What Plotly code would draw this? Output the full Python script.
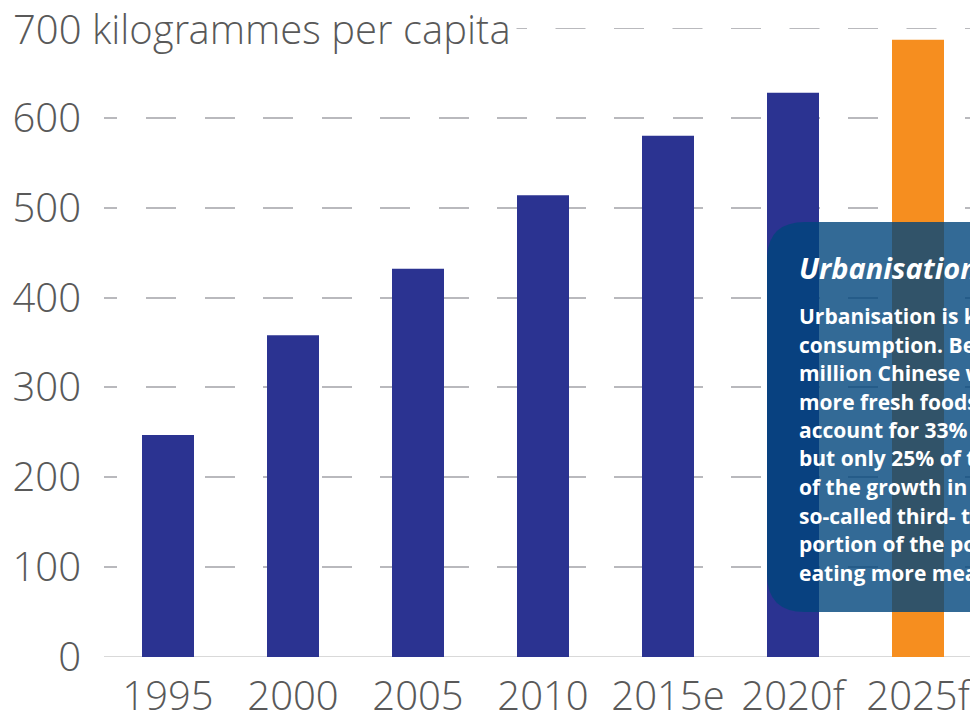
import plotly.graph_objects as go

# ---- data ----
categories = ["1995", "2000", "2005", "2010", "2015e", "2020f", "2025f"]
values = [247, 358, 432, 514, 580, 628, 687]
y_ticks = [0, 100, 200, 300, 400, 500, 600]
y_top_value = 700
y_top_label = "700 kilogrammes per capita"
box_title = "Urbanisation and diet"
box_lines = [
    "Urbanisation is key to rising food",
    "consumption. Between 2015 and 2025, 200",
    "million Chinese will move to cities and eat",
    "more fresh foods. First-tier cities",
    "account for 33% of food consumption",
    "but only 25% of the population. Much",
    "of the growth in future will come from",
    "so-called third- to fifth-tier cities, a large",
    "portion of the population who will be",
    "eating more meat.",
]

# ---- styles ----
BLUE = "#2b3391"
ORANGE = "#f68e1f"
GREY_TEXT = "#595959"
FONT = "Open Sans Light, Open Sans"
BOX_FONT = "Open Sans"
bar_colors = [ORANGE if c == "2025f" else BLUE for c in categories]

W, H = 970, 714
ML, MR, MT, MB = 104, 0, 28, 57
PW, PH = W - ML - MR, H - MT - MB


def px_x(p):
    return (p - ML) / PW


def px_y(p):
    return (H - MB - p) / PH


# dash pattern for gridlines (offset to match the reference)
dash = ["13px", "29px"] + ["30px", "28.5px"] * 16
dash_str = ",".join(dash)

fig = go.Figure()
fig.add_trace(go.Bar(
    x=categories, y=values, marker=dict(color=bar_colors, line=dict(width=0)),
    width=0.416, hoverinfo="skip",
))

fig.update_layout(
    width=W, height=H,
    margin=dict(l=ML, r=MR, t=MT, b=MB, pad=0, autoexpand=False),
    paper_bgcolor="white", plot_bgcolor="white",
    showlegend=False,
    font=dict(family=FONT, color=GREY_TEXT, size=40, weight=300),
    xaxis=dict(
        type="category", range=[-0.512, 6.416], showgrid=False,
        showline=False, zeroline=False, ticks="", automargin=False,
        tickfont=dict(family=FONT, size=40, color=GREY_TEXT, weight=300),
        ticklabelstandoff=12,
    ),
    yaxis=dict(
        range=[0, y_top_value], tickvals=y_ticks,
        ticktext=[str(v) for v in y_ticks], automargin=False,
        showgrid=True, gridcolor="#b9b9bd", gridwidth=2, griddash=dash_str,
        zeroline=False, showline=False, ticks="",
        tickfont=dict(family=FONT, size=40, color=GREY_TEXT, weight=300),
        ticklabelstandoff=22,
    ),
)

# top gridline (at the range edge)
fig.add_shape(type="line", xref="paper", yref="y", x0=0, x1=1,
              y0=y_top_value, y1=y_top_value,
              line=dict(color="#b9b9bd", width=2, dash=dash_str), layer="below")

# x-axis baseline
fig.add_shape(type="line", xref="paper", yref="y", x0=0, x1=1, y0=0, y1=0,
              line=dict(color="#d9d9d9", width=2), layer="below")

# top label replacing "700"
fig.add_annotation(
    xref="paper", yref="y", x=px_x(7), y=y_top_value, xanchor="left",
    yanchor="middle", text=y_top_label, showarrow=False, bgcolor="white",
    borderpad=5,
    font=dict(family=FONT, size=40, color=GREY_TEXT, weight=300),
)

# rounded, semi-transparent box
x0, x1 = px_x(767), px_x(1120)
yt, yb = px_y(222), px_y(612)
rx, ry = 38 / PW, 38 / PH
path = (
    f"M {x0 + rx},{yt} L {x1},{yt} L {x1},{yb} L {x0 + rx},{yb} "
    f"Q {x0},{yb} {x0},{yb + ry} L {x0},{yt - ry} Q {x0},{yt} {x0 + rx},{yt} Z"
)
fig.add_shape(type="path", xref="paper", yref="paper", path=path,
              fillcolor="rgba(0,69,124,0.8)", line=dict(width=0), layer="above")

fig.add_annotation(
    xref="paper", yref="paper", x=px_x(797), y=px_y(267), xanchor="left",
    yanchor="middle", text=f"<b><i>{box_title}</i></b>", showarrow=False,
    font=dict(family=BOX_FONT, size=29, color="white"), align="left",
)
for i, line in enumerate(box_lines):
    fig.add_annotation(
        xref="paper", yref="paper", x=px_x(797), y=px_y(316 + 28.5 * i),
        xanchor="left", yanchor="middle", text=f"<b>{line}</b>",
        showarrow=False, font=dict(family=BOX_FONT, size=21, color="white"),
        align="left",
    )

fig.write_html("out.html")
